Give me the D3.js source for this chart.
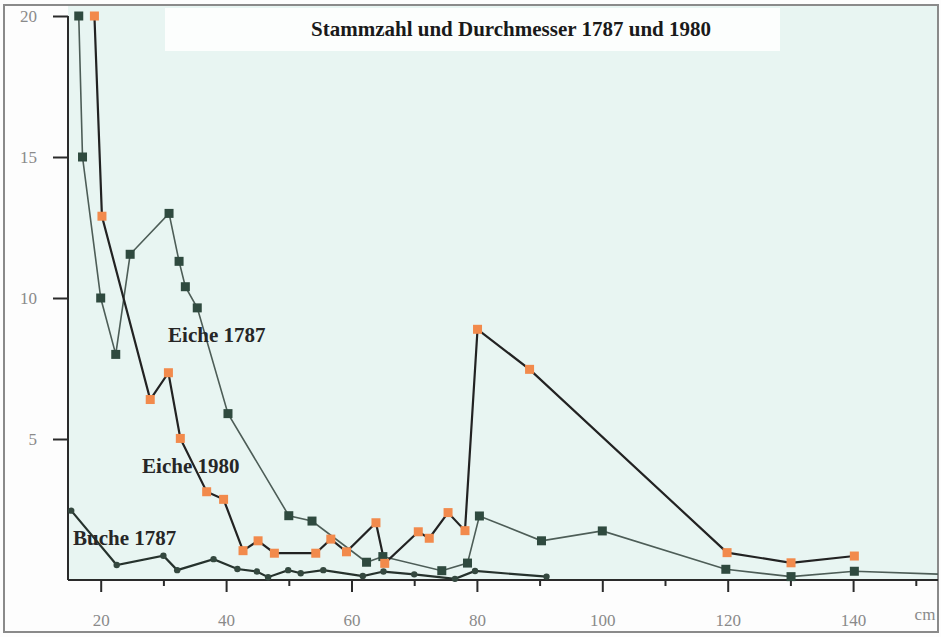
<!DOCTYPE html>
<html><head><meta charset="utf-8">
<script src="https://cdn.jsdelivr.net/npm/d3@7"></script>
<style>html,body{margin:0;padding:0;background:#fdfdfd;}svg{display:block;}</style>
</head><body>
<svg id="chart" width="941" height="637"></svg>
<script>
const title = "Stammzahl und Durchmesser 1787 und 1980";
const xMajorTicks = [20, 40, 60, 80, 100, 120, 140];
const xMinorTicks = [30, 50, 70, 90, 110, 130, 150];
const yTicks = [5, 10, 15, 20];
const xUnit = "cm";

const eiche1787X = [16.5, 17.1, 20, 22.4, 24.7, 30.9, 32.5, 33.5, 35.4, 40.3, 50, 53.7, 62.4, 65, 74.4, 78.5, 80.4, 90.3, 100, 119.7, 130.1, 140.2, 160];
const eiche1787Y = [20, 15, 10, 8, 11.55, 13, 11.3, 10.4, 9.65, 5.9, 2.28, 2.09, 0.63, 0.83, 0.33, 0.6, 2.27, 1.39, 1.74, 0.38, 0.12, 0.31, 0.16];

const eiche1980X = [19.0, 20.2, 27.9, 30.8, 32.7, 36.9, 39.6, 42.7, 45.1, 47.7, 54.3, 56.7, 59.2, 63.9, 65.3, 70.65, 72.4, 75.4, 78.1, 80.1, 88.4, 119.9, 130.1, 140.2];
const eiche1980Y = [20, 12.9, 6.4, 7.35, 5.02, 3.13, 2.86, 1.04, 1.39, 0.95, 0.95, 1.45, 1.0, 2.03, 0.59, 1.71, 1.48, 2.39, 1.75, 8.89, 7.47, 0.97, 0.61, 0.85];

const buche1787X = [15.3, 22.55, 30.0, 32.2, 38.0, 41.8, 44.9, 46.7, 49.9, 51.9, 55.5, 61.8, 65.1, 70.0, 76.5, 79.7, 91.1];
const buche1787Y = [2.46, 0.53, 0.86, 0.35, 0.74, 0.39, 0.30, 0.10, 0.35, 0.24, 0.35, 0.14, 0.30, 0.20, 0.04, 0.32, 0.12];

const seriesLabels = ["Eiche 1787", "Eiche 1980", "Buche 1787"];
const labelX = [30.75, 26.6, 15.6];
const labelY = [8.44, 3.8, 1.24];

const svg = d3.select("#chart");
const x = d3.scaleLinear().domain([15, 155]).range([69.35, 947.15]);
const y = d3.scaleLinear().domain([0, 20]).range([580, 16]);

const plotLeft = 68, plotRight = 938, plotTop = 6, plotBottom = 580;

// backgrounds
svg.append("rect").attr("x", 0).attr("y", 0).attr("width", 941).attr("height", 637).attr("fill", "#fdfdfd");
svg.append("rect").attr("x", plotLeft).attr("y", plotTop).attr("width", plotRight - plotLeft).attr("height", plotBottom - plotTop).attr("fill", "#e8f5f2");
svg.append("rect").attr("x", 165).attr("y", 8).attr("width", 615).attr("height", 43).attr("fill", "#fcfefd");

// frame
svg.append("rect").attr("x", 4).attr("y", 5).attr("width", 934).attr("height", 627)
  .attr("fill", "none").attr("stroke", "#8a8a8a").attr("stroke-width", 2);

// title
svg.append("text").attr("x", 511).attr("y", 36).attr("text-anchor", "middle")
  .attr("font-family", "Liberation Serif, serif").attr("font-weight", "bold").attr("font-size", 21)
  .attr("fill", "#1a1a1a").text(title);

// axes
const axisColor = "#2a2a2a";
svg.append("line").attr("x1", plotLeft).attr("x2", plotRight).attr("y1", plotBottom).attr("y2", plotBottom)
  .attr("stroke", axisColor).attr("stroke-width", 2);
svg.append("line").attr("x1", plotLeft).attr("x2", plotLeft).attr("y1", y(20)).attr("y2", plotBottom)
  .attr("stroke", axisColor).attr("stroke-width", 2);

const xAxisMajor = d3.axisBottom(x).tickValues(xMajorTicks).tickSize(12).tickPadding(22).tickFormat(d3.format("d"));
const gx = svg.append("g").attr("transform", `translate(0,${plotBottom})`).call(xAxisMajor);
gx.select(".domain").remove();
gx.selectAll(".tick line").attr("stroke", axisColor).attr("stroke-width", 2);
gx.selectAll(".tick text").attr("font-family", "Liberation Serif, serif").attr("font-size", 17).attr("fill", "#8a8a8a");

const xAxisMinor = d3.axisBottom(x).tickValues(xMinorTicks).tickSize(6).tickFormat("");
const gx2 = svg.append("g").attr("transform", `translate(0,${plotBottom})`).call(xAxisMinor);
gx2.select(".domain").remove();
gx2.selectAll(".tick line").attr("stroke", axisColor).attr("stroke-width", 2);

const yAxis = d3.axisLeft(y).tickValues(yTicks).tickSize(15).tickPadding(16).tickFormat(d3.format("d"));
const gy = svg.append("g").attr("transform", `translate(${plotLeft},0)`).call(yAxis);
gy.select(".domain").remove();
gy.selectAll(".tick line").attr("stroke", axisColor).attr("stroke-width", 2);
gy.selectAll(".tick text").attr("font-family", "Liberation Serif, serif").attr("font-size", 17).attr("fill", "#8a8a8a");

svg.append("text").attr("x", 925).attr("y", 620).attr("text-anchor", "middle")
  .attr("font-family", "Liberation Serif, serif").attr("font-size", 17).attr("fill", "#8a8a8a").text(xUnit);

// clip
svg.append("clipPath").attr("id", "clip").append("rect")
  .attr("x", plotLeft).attr("y", 8).attr("width", plotRight - plotLeft).attr("height", plotBottom - 8 + 6);

const plot = svg.append("g").attr("clip-path", "url(#clip)");
const zip = (xs, ys) => xs.map((v, i) => [v, ys[i]]);
const e87 = zip(eiche1787X, eiche1787Y);
const e80 = zip(eiche1980X, eiche1980Y);
const b87 = zip(buche1787X, buche1787Y);
const line = d3.line().x(d => x(d[0])).y(d => y(d[1]));

plot.append("path").datum(e87).attr("d", line).attr("fill", "none").attr("stroke", "#4d5d57").attr("stroke-width", 1.6);
plot.append("path").datum(b87).attr("d", line).attr("fill", "none").attr("stroke", "#26322d").attr("stroke-width", 2.2);
plot.append("path").datum(e80).attr("d", line).attr("fill", "none").attr("stroke", "#222").attr("stroke-width", 2.2);

const s = 9;
plot.selectAll(".m87").data(e87).enter().append("rect").attr("class", "m87")
  .attr("x", d => x(d[0]) - s / 2).attr("y", d => y(d[1]) - s / 2).attr("width", s).attr("height", s)
  .attr("fill", "#2f4a3f");
plot.selectAll(".mb").data(b87).enter().append("circle").attr("class", "mb")
  .attr("cx", d => x(d[0])).attr("cy", d => y(d[1])).attr("r", 3.2).attr("fill", "#34483f");
plot.selectAll(".m80").data(e80).enter().append("rect").attr("class", "m80")
  .attr("x", d => x(d[0]) - s / 2).attr("y", d => y(d[1]) - s / 2).attr("width", s).attr("height", s)
  .attr("fill", "#f28a4c");

// labels
svg.selectAll(".lbl").data(seriesLabels).enter().append("text").attr("class", "lbl")
  .attr("x", (d, i) => x(labelX[i])).attr("y", (d, i) => y(labelY[i]))
  .attr("font-family", "Liberation Serif, serif").attr("font-weight", "bold").attr("font-size", 21)
  .attr("fill", "#262626").text(d => d);
</script>
</body></html>
